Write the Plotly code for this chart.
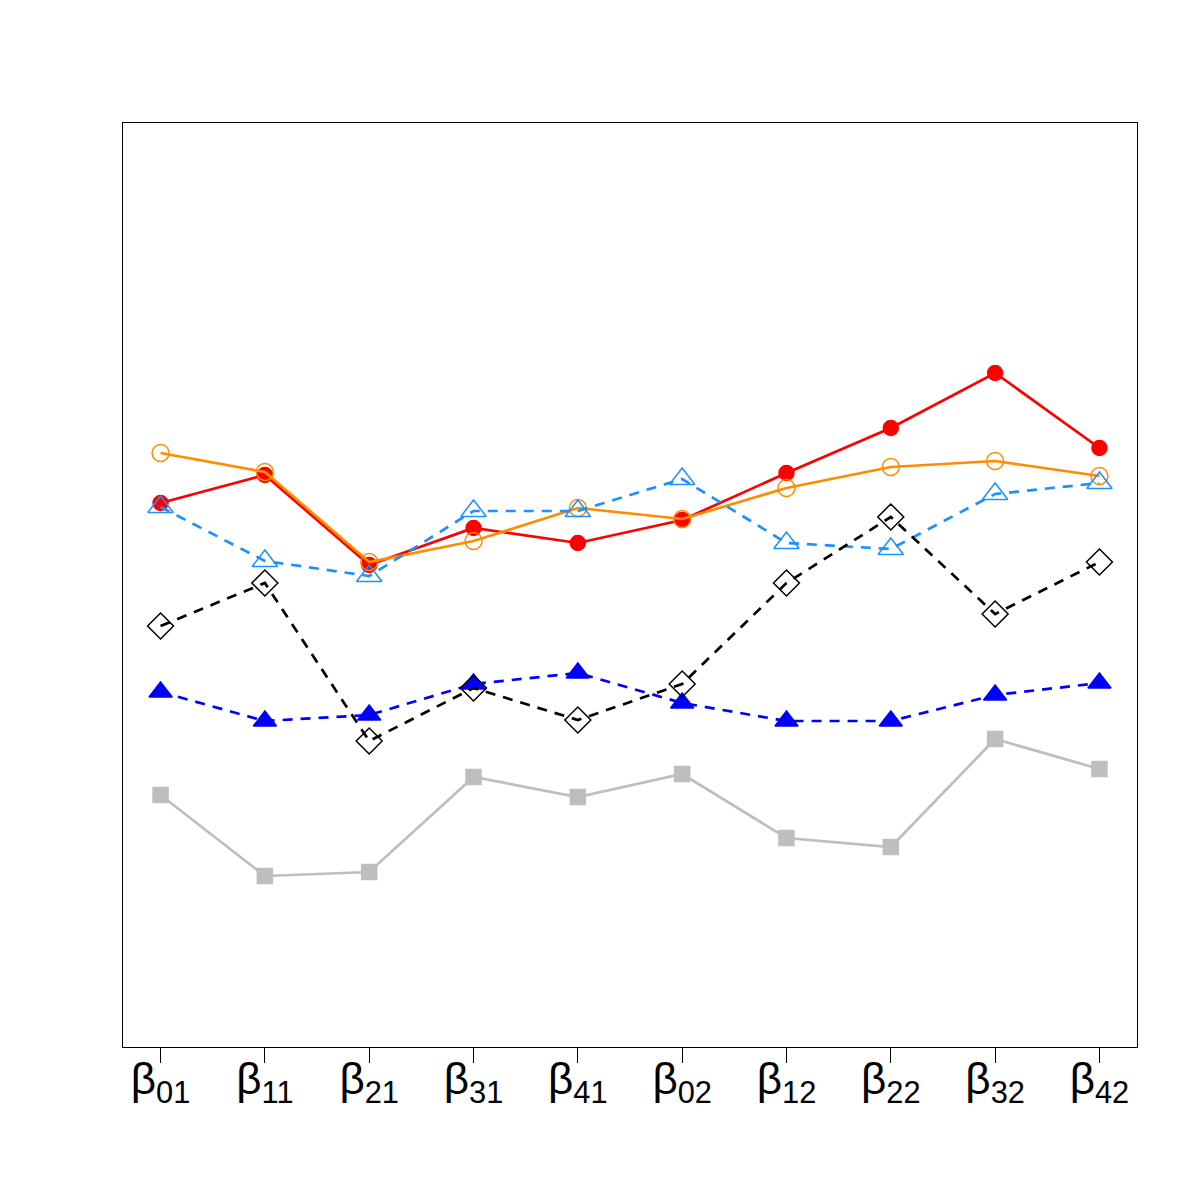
import plotly.graph_objects as go

categories = ["β<sub>01</sub>", "β<sub>11</sub>", "β<sub>21</sub>", "β<sub>31</sub>", "β<sub>41</sub>",
              "β<sub>02</sub>", "β<sub>12</sub>", "β<sub>22</sub>", "β<sub>32</sub>", "β<sub>42</sub>"]
x_pos = list(range(1, 11))

# values (arbitrary units)
red_vals = [544, 572, 482, 519, 504, 527, 574, 619, 674, 599]
orange_vals = [594, 575, 485, 506, 539, 528, 559, 580, 586, 571]
dodger_vals = [540, 486, 471, 536, 536, 568, 504, 498, 553, 564]
black_vals = [421, 464, 306, 359, 327, 363, 464, 530, 433, 485]
blue_vals = [355, 326, 332, 363, 374, 344, 326, 326, 352, 364]
gray_vals = [252, 171, 175, 270, 250, 273, 209, 200, 308, 278]

fig = go.Figure()

series = [
    (red_vals, "red", "solid", "circle", 15),
    (orange_vals, "darkorange", "solid", "circle-open", 17),
    (dodger_vals, "dodgerblue", "10px,8px", "triangle-up-open", 22),
    (gray_vals, "#bebebe", "solid", "square", 15),
    (blue_vals, "blue", "10px,8px", "triangle-up", 20),
    (black_vals, "black", "10px,8px", "diamond-open", 20),
]

for vals, col, dash, sym, size in series:
    fig.add_trace(go.Scatter(
        x=x_pos, y=vals, mode="lines+markers",
        line=dict(color=col, width=2.7, dash=dash),
        marker=dict(symbol=sym, size=size, color=col,
                    line=dict(color=col, width=1.5)),
        showlegend=False,
    ))

fig.update_layout(
    width=1200, height=1200,
    margin=dict(l=123, r=63, t=123, b=153),
    paper_bgcolor="white", plot_bgcolor="white",
    font=dict(family="Liberation Sans, Arial, sans-serif", color="black"),
    xaxis=dict(
        range=[0.64, 10.36], tickvals=x_pos, ticktext=categories,
        ticks="outside", ticklen=15, tickwidth=1, tickcolor="black",
        tickfont=dict(size=44), showgrid=False, zeroline=False,
        showline=True, linecolor="black", linewidth=1.3, mirror=True,
        ticklabelstandoff=-22,
    ),
    yaxis=dict(
        range=[0, 924], showticklabels=False, ticks="", showgrid=False,
        zeroline=False, showline=True, linecolor="black", linewidth=1.3, mirror=True,
    ),
)

fig.write_html("out.html")
